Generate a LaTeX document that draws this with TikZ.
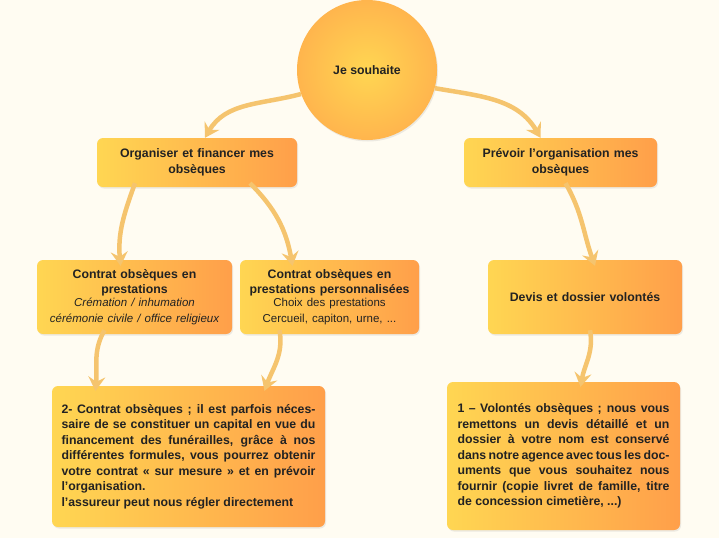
\documentclass[tikz,border=0pt]{standalone}
\usepackage{fontspec}
\setmainfont{Liberation Sans}
\usetikzlibrary{arrows.meta,shadows}
\definecolor{bgc}{HTML}{FFFCF2}
\definecolor{yl}{HTML}{FFD652}
\definecolor{og}{HTML}{FF9F4A}
\definecolor{arr}{HTML}{F5C46E}
\definecolor{txt}{HTML}{222222}
\newcommand\subtxt{\fontsize{11.5}{14}\selectfont\mdseries}
\tikzset{
 box/.style={rounded corners=6pt,left color=yl,right color=og,draw=none,
   drop shadow={shadow xshift=1pt,shadow yshift=-1.5pt,opacity=0.15},
   align=center,font=\fontsize{12.3}{15.5}\selectfont\bfseries,text=txt,inner sep=4pt},
 arw/.style={draw=arr,line width=4.5pt,-{Stealth[length=14pt,width=17pt,inset=5pt]}}
}
\begin{document}
\begin{tikzpicture}[x=1pt,y=-1pt]
\fill[bgc] (0,0) rectangle (719,538);
\useasboundingbox (0,0) rectangle (719,538);
\node[circle,minimum size=140pt,inner color=yl,outer color=og!60!yl,font=\fontsize{12.3}{15}\selectfont\bfseries,text=txt,
  drop shadow={shadow xshift=1pt,shadow yshift=-1.5pt,opacity=0.15}] (c) at (367,70) {Je souhaite};
\node[box,minimum width=200pt,minimum height=49pt,text width=190pt] (a) at (197,162.5) {Organiser et financer mes\\obsèques};
\node[box,minimum width=193pt,minimum height=49pt,text width=185pt] (b) at (560.5,162.5) {Prévoir l’organisation mes\\obsèques};
\node[box,minimum width=195pt,minimum height=74pt,text width=192pt,inner sep=1pt] (cc) at (134.5,297) {Contrat obsèques en\\prestations\\[-1pt]{\subtxt\itshape Crémation / inhumation\\cérémonie civile / office religieux}};
\node[box,minimum width=177pt,minimum height=74pt,text width=177pt,inner sep=1pt] (d) at (329.5,297) {Contrat obsèques en\\prestations personnalisées\\[-1pt]{\subtxt Choix des prestations\\Cercueil, capiton, urne, ...}};
\node[box,minimum width=194pt,minimum height=74pt,text width=185pt] (e) at (585,297) {Devis et dossier volontés};
\node[box,minimum width=273pt,minimum height=141pt,text width=254pt,align=justify] (f) at (188.5,456.5) {2- Contrat obsèques ; il est parfois nécessaire de se constituer un capital en vue du financement des funérailles, grâce à nos différentes formules, vous pourrez obtenir votre contrat «~sur mesure~» et en prévoir l’organisation.\\l’assureur peut nous régler directement};
\node[box,minimum width=233pt,minimum height=148pt,text width=212pt,align=justify] (g) at (563.5,456) {1 – Volontés obsèques ; nous vous remettons un devis détaillé et un dossier à votre nom est conservé dans notre agence avec tous les documents que vous souhaitez nous fournir (copie livret de famille, titre de concession cimetière, ...)};
\draw[arw] (c.200) to[out=195,in=60] ([xshift=8pt]a.north);
\draw[arw] (c.-15) to[out=-10,in=120] ([xshift=-20pt]b.north);
\draw[arw] ([xshift=-62pt,yshift=4pt]a.south) to[out=250,in=95] ([xshift=-14pt,yshift=-6pt]cc.north);
\draw[arw] ([xshift=53pt,yshift=4pt]a.south) to[out=-45,in=100] ([xshift=-37pt,yshift=-6pt]d.north);
\draw[arw] ([xshift=5pt,yshift=4pt]b.south) to[out=-60,in=110] ([xshift=10pt,yshift=-6pt]e.north);
\draw[arw] ([xshift=-30pt,yshift=4pt]cc.south) to[out=240,in=85] ([xshift=-93pt,yshift=-5pt]f.north);
\draw[arw] ([xshift=-50pt,yshift=4pt]d.south) to[out=-80,in=70] ([xshift=76pt,yshift=-5pt]f.north);
\draw[arw] ([xshift=5pt,yshift=4pt]e.south) to[out=-80,in=80] ([xshift=17pt,yshift=-5pt]g.north);
\end{tikzpicture}
\end{document}
